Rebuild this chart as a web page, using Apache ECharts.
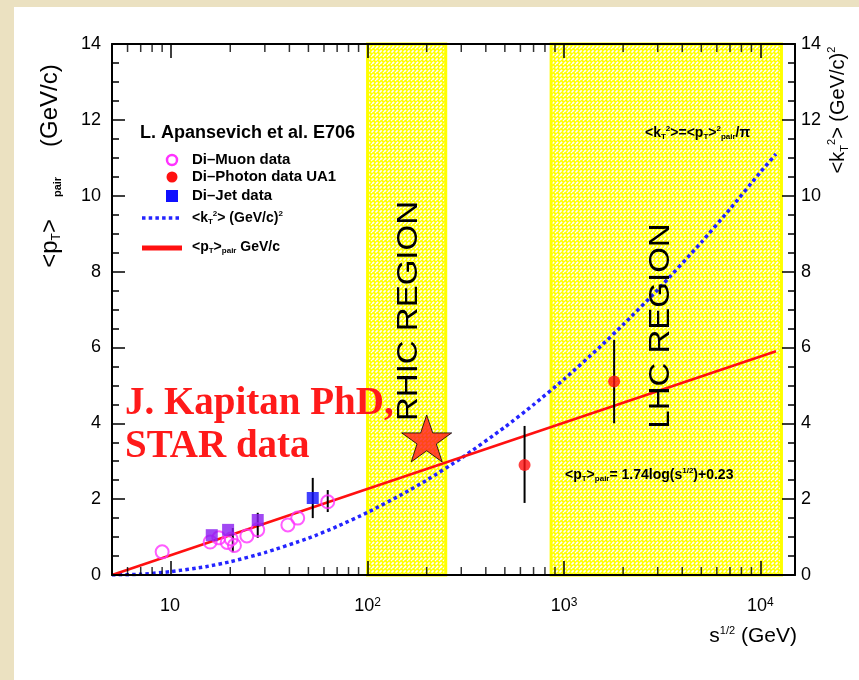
<!DOCTYPE html>
<html><head><meta charset="utf-8">
<script src="https://cdn.jsdelivr.net/npm/echarts@6/dist/echarts.min.js"></script>
<style>
html,body{margin:0;padding:0;background:#ebe1c1;}
#panel{position:absolute;left:14px;top:7px;width:845px;height:673px;background:#fff;}
#chart{position:absolute;left:0;top:0;width:859px;height:680px;}
</style></head><body><div id="panel"></div><div id="chart"></div>
<script>
// ---- data ----
const xMin = 5, xMax = 15000;
const xMinorTicks = [6,7,8,9,20,30,40,50,60,70,80,90,200,300,400,500,600,700,800,900,2000,3000,4000,5000,6000,7000,8000,9000];
const regions = [[100, 250], [860, 12800]];
const muonS  = [9.0, 15.8, 17.5, 19.3, 20.2, 21.0, 24.3, 27.6, 39.3, 44.1, 62.7];
const muonPt = [0.61, 0.87, 0.98, 0.86, 0.95, 0.78, 1.03, 1.19, 1.32, 1.50, 1.93];
const jetS  = [16.1, 19.5, 27.6, 52.6];
const jetPt = [1.05, 1.19, 1.45, 2.03];
const photonS  = [630, 1800];
const photonPt = [2.90, 5.10];
const errS  = [20.6, 27.6, 52.6, 62.7, 630, 1800];
const errLo = [0.60, 0.98, 1.50, 1.66, 1.90, 4.00];
const errHi = [1.24, 1.64, 2.56, 2.24, 3.93, 6.20];
const fitS  = [5, 12000];
const fitPt = [0, 5.9];
const kt2S = [5, 7, 10, 15, 20, 30, 50, 70, 100, 150, 200, 300, 500, 700, 1000, 1500, 2000, 3000, 5000, 7000, 10000, 12000];
const kt2  = [0, 0.02, 0.09, 0.22, 0.35, 0.59, 0.97, 1.28, 1.65, 2.13, 2.50, 3.08, 3.90, 4.49, 5.16, 5.98, 6.60, 7.52, 8.77, 9.65, 10.62, 11.10];
const starS = [200], starPt = [3.6];
const yMin = 0, yMax = 14, yInterval = 2;

// ---- chart ----
const FONT = '"Liberation Sans", Arial, sans-serif';
const zip = (a, b) => a.map((v, i) => [v, b[i]]);

function hatch() {
  const c = document.createElement('canvas');
  c.width = 8; c.height = 8;
  const g = c.getContext('2d');
  g.fillStyle = '#ffff00'; g.fillRect(0, 0, 8, 8);
  g.strokeStyle = '#ffffff'; g.lineWidth = 1.6;
  g.setLineDash([3, 2]);
  for (let k = -8; k <= 16; k += 4) { g.beginPath(); g.moveTo(k, 8); g.lineTo(k + 8, 0); g.stroke(); }
  return c;
}
function rich(fs) {
  return {
    n: {fontSize: fs, lineHeight: fs + 2, verticalAlign: 'middle', fontFamily: FONT, fontWeight: 'bold', fill: '#000'},
    sup: {fontSize: Math.round(fs * 0.6), lineHeight: Math.round(fs * 0.6), verticalAlign: 'top', padding: [0, 0, Math.round(fs * 0.6), 0], fontFamily: FONT, fontWeight: 'bold', fill: '#000'},
    sub: {fontSize: Math.round(fs * 0.6), lineHeight: Math.round(fs * 0.6), verticalAlign: 'bottom', padding: [Math.round(fs * 0.6), 0, 0, 0], fontFamily: FONT, fontWeight: 'bold', fill: '#000'}
  };
}
function rtext(x, y, text, fs, opts) {
  return Object.assign({type: 'text', x: x, y: y, z: 100,
    style: {text: text, rich: rich(fs), align: 'left', verticalAlign: 'middle', fill: '#000'}}, opts || {});
}

const chart = echarts.init(document.getElementById('chart'), null, {renderer: 'canvas'});
const axisLineStyle = {color: '#000', width: 2};
const xAxisCommon = {
  type: 'log', logBase: 10, min: xMin, max: xMax, z: 10,
  axisLine: {show: true, onZero: false, lineStyle: axisLineStyle},
  axisTick: {show: true, inside: true, length: 14, lineStyle: {color: '#000', width: 1.5}},
  splitLine: {show: false}
};
const yAxisCommon = {
  type: 'value', min: yMin, max: yMax, interval: yInterval, z: 10,
  axisLine: {show: true, onZero: false, lineStyle: axisLineStyle},
  axisTick: {show: true, inside: true, length: 13, lineStyle: {color: '#000', width: 1.5}},
  minorTick: {show: true, splitNumber: 4, length: 7, lineStyle: {color: '#000', width: 1.5}},
  splitLine: {show: false},
  axisLabel: {fontSize: 18, color: '#000', fontFamily: FONT, margin: 11}
};

chart.setOption({
  animation: false,
  grid: {left: 112, top: 44, right: 64, bottom: 105},
  xAxis: [
    Object.assign({}, xAxisCommon, {position: 'bottom',
      axisLabel: {margin: 22, color: '#000',
        formatter: v => { const l = Math.log10(v), e = Math.round(l);
          if (Math.abs(l - e) > 1e-6) return '';
          return e === 1 ? '{b|10}{sup|\u2009}' : '{b|10}{sup|' + e + '}'; },
        rich: {b: {fontSize: 18, lineHeight: 18, verticalAlign: 'bottom', fontFamily: FONT, color: '#000'},
               sup: {fontSize: 12, lineHeight: 12, verticalAlign: 'top', padding: [0, 0, 10, 0], fontFamily: FONT, color: '#000'}}}}),
    Object.assign({}, xAxisCommon, {position: 'top', axisLabel: {show: false}})
  ],
  yAxis: [
    Object.assign({}, yAxisCommon, {position: 'left'}),
    Object.assign({}, yAxisCommon, {position: 'right', axisLabel: Object.assign({}, yAxisCommon.axisLabel, {margin: 6})})
  ],
  series: [
    {type: 'line', name: 'regions', z: 1, silent: true, symbol: 'none', data: [[regions[0][0], 0]],
     lineStyle: {opacity: 0},
     markArea: {silent: true,
       itemStyle: {color: {image: hatch(), repeat: 'repeat'}, borderColor: '#ffff00', borderWidth: 3},
       data: regions.map(r => [{xAxis: r[0]}, {xAxis: r[1]}])}},
    {type: 'line', name: 'kt2', z: 3, symbol: 'none', data: zip(kt2S, kt2), smooth: 0.2,
     lineStyle: {color: '#2424ff', width: 3.5, type: [3.5, 3.2]}},
    {type: 'line', name: 'fit', z: 4, symbol: 'none', data: zip(fitS, fitPt),
     lineStyle: {color: '#ff1010', width: 2.5}},
    {type: 'custom', name: 'err', z: 5, data: errS.map((s, i) => [s, errLo[i], errHi[i]]),
     encode: {x: 0, y: [1, 2]},
     renderItem: (params, api) => {
       const a = api.coord([api.value(0), api.value(1)]);
       const b = api.coord([api.value(0), api.value(2)]);
       return {type: 'line', shape: {x1: a[0], y1: a[1], x2: b[0], y2: b[1]}, style: {stroke: '#000', lineWidth: 2}};
     }},
    {type: 'scatter', name: 'muon', z: 6, symbol: 'circle', symbolSize: 13, data: zip(muonS, muonPt),
     itemStyle: {color: 'rgba(255,255,255,0)', borderColor: '#ff33ff', borderWidth: 2}},
    {type: 'scatter', name: 'jet', z: 7, symbol: 'rect', symbolSize: 12, data: zip(jetS, jetPt),
     itemStyle: {color: p => p.dataIndex < 3 ? '#8a1cf0' : '#1010ff'}},
    {type: 'scatter', name: 'photon', z: 7, symbol: 'circle', symbolSize: 12, data: zip(photonS, photonPt),
     itemStyle: {color: '#ff1010'}},
    {type: 'scatter', name: 'star', z: 20, symbolSize: 50, symbolKeepAspect: true,
     symbol: 'path://M50,0 L61.8,35.1 L98.9,35.1 L68.9,56.7 L80.3,91.9 L50,70 L19.7,91.9 L31.1,56.7 L1.1,35.1 L38.2,35.1 Z',
     data: zip(starS, starPt), itemStyle: {color: '#ff1a1a', borderColor: '#000', borderWidth: 1}},
    {type: 'scatter', name: 'minorBottom', z: 11, silent: true, clip: false, symbol: 'rect', symbolSize: [1.5, 8], symbolOffset: [0, -4],
     data: xMinorTicks.map(v => [v, yMin]), itemStyle: {color: '#000'}},
    {type: 'scatter', name: 'minorTop', z: 11, silent: true, clip: false, symbol: 'rect', symbolSize: [1.5, 8], symbolOffset: [0, 4],
     data: xMinorTicks.map(v => [v, yMax]), itemStyle: {color: '#000'}}
  ],
  graphic: [
    // axis names
    {type: 'text', x: 50, y: 166, rotation: Math.PI / 2, z: 100,
     style: {text: '{a|<p}{s|T}{a|>}{q|pair}{a|(GeV/c)}', align: 'center', verticalAlign: 'middle',
       rich: {a: {fontSize: 24, fontFamily: FONT, fill: '#000', verticalAlign: 'middle', lineHeight: 26},
              s: {fontSize: 12, fontFamily: FONT, fill: '#000', verticalAlign: 'bottom', lineHeight: 14},
              q: {fontSize: 11, fontFamily: FONT, fontWeight: 'bold', fill: '#000', verticalAlign: 'bottom', lineHeight: 14, padding: [0, 30, 0, 22]}}}},
    {type: 'text', x: 838, y: 110, rotation: Math.PI / 2, z: 100,
     style: {text: '{a|<k}{s|T}{p|2}{a|> (GeV/c)}{p|2}', align: 'center', verticalAlign: 'middle',
       rich: {a: {fontSize: 20, fontFamily: FONT, fill: '#000', verticalAlign: 'middle', lineHeight: 24},
              s: {fontSize: 11, fontFamily: FONT, fill: '#000', verticalAlign: 'bottom', lineHeight: 13},
              p: {fontSize: 11, fontFamily: FONT, fill: '#000', verticalAlign: 'top', lineHeight: 13}}}},
    {type: 'text', x: 797, y: 636, z: 100,
     style: {text: '{a|s}{p|1/2}{a| (GeV)}', align: 'right', verticalAlign: 'middle',
       rich: {a: {fontSize: 21, fontFamily: FONT, fill: '#000', verticalAlign: 'bottom', lineHeight: 22},
              p: {fontSize: 11, fontFamily: FONT, fill: '#000', verticalAlign: 'top', lineHeight: 11, padding: [0, 0, 12, 0]}}}},
    // region labels
    {type: 'text', x: 409, y: 311, rotation: Math.PI / 2, scaleX: 1.1, z: 100,
     style: {text: 'RHIC REGION', font: '30px ' + FONT, fill: '#000', align: 'center', verticalAlign: 'middle'}},
    {type: 'text', x: 661, y: 326, rotation: Math.PI / 2, scaleX: 1.1, z: 100,
     style: {text: 'LHC REGION', font: '30px ' + FONT, fill: '#000', align: 'center', verticalAlign: 'middle'}},
    // legend
    {type: 'text', x: 140, y: 133, z: 100, style: {text: 'L. Apansevich et al. E706', font: 'bold 18px ' + FONT, fill: '#000', align: 'left', verticalAlign: 'middle'}},
    {type: 'circle', z: 100, shape: {cx: 172, cy: 160, r: 5}, style: {fill: 'rgba(0,0,0,0)', stroke: '#ff33ff', lineWidth: 2.5}},
    {type: 'circle', z: 100, shape: {cx: 172, cy: 177, r: 5.5}, style: {fill: '#ff1010'}},
    {type: 'rect', z: 100, shape: {x: 166, y: 190, width: 12, height: 12}, style: {fill: '#1010ff'}},
    {type: 'line', z: 100, shape: {x1: 142, y1: 218, x2: 181, y2: 218}, style: {stroke: '#2424ff', lineWidth: 3.5, lineDash: [3.5, 3.2]}},
    {type: 'line', z: 100, shape: {x1: 142, y1: 248, x2: 182, y2: 248}, style: {stroke: '#ff1010', lineWidth: 5}},
    rtext(192, 160, '{n|Di\u2013Muon data}', 15),
    rtext(192, 177, '{n|Di\u2013Photon data UA1}', 15),
    rtext(192, 196, '{n|Di\u2013Jet data}', 15),
    rtext(192, 218, '{n|<k}{sub|T}{sup|2}{n|> (GeV/c)}{sup|2}', 14),
    rtext(192, 247, '{n|<p}{sub|T}{n|>}{sub|pair}{n| GeV/c}', 14),
    // formulas
    rtext(645, 133, '{n|<k}{sub|T}{sup|2}{n|>=<p}{sub|T}{n|>}{sup|2}{sub|pair}{n|/\u03c0}', 14),
    rtext(565, 475, '{n|<p}{sub|T}{n|>}{sub|pair}{n|= 1.74log(s}{sup|1/2}{n|)+0.23}', 14),
    // annotation
    {type: 'text', x: 125, y: 404, z: 120, style: {text: 'J. Kapitan PhD,', font: 'bold 39px "Liberation Serif", "Times New Roman", serif', fill: '#ff1a1a', align: 'left', verticalAlign: 'middle'}},
    {type: 'text', x: 125, y: 447, z: 120, style: {text: 'STAR data', font: 'bold 39px "Liberation Serif", "Times New Roman", serif', fill: '#ff1a1a', align: 'left', verticalAlign: 'middle'}}
  ]
});
</script></body></html>
